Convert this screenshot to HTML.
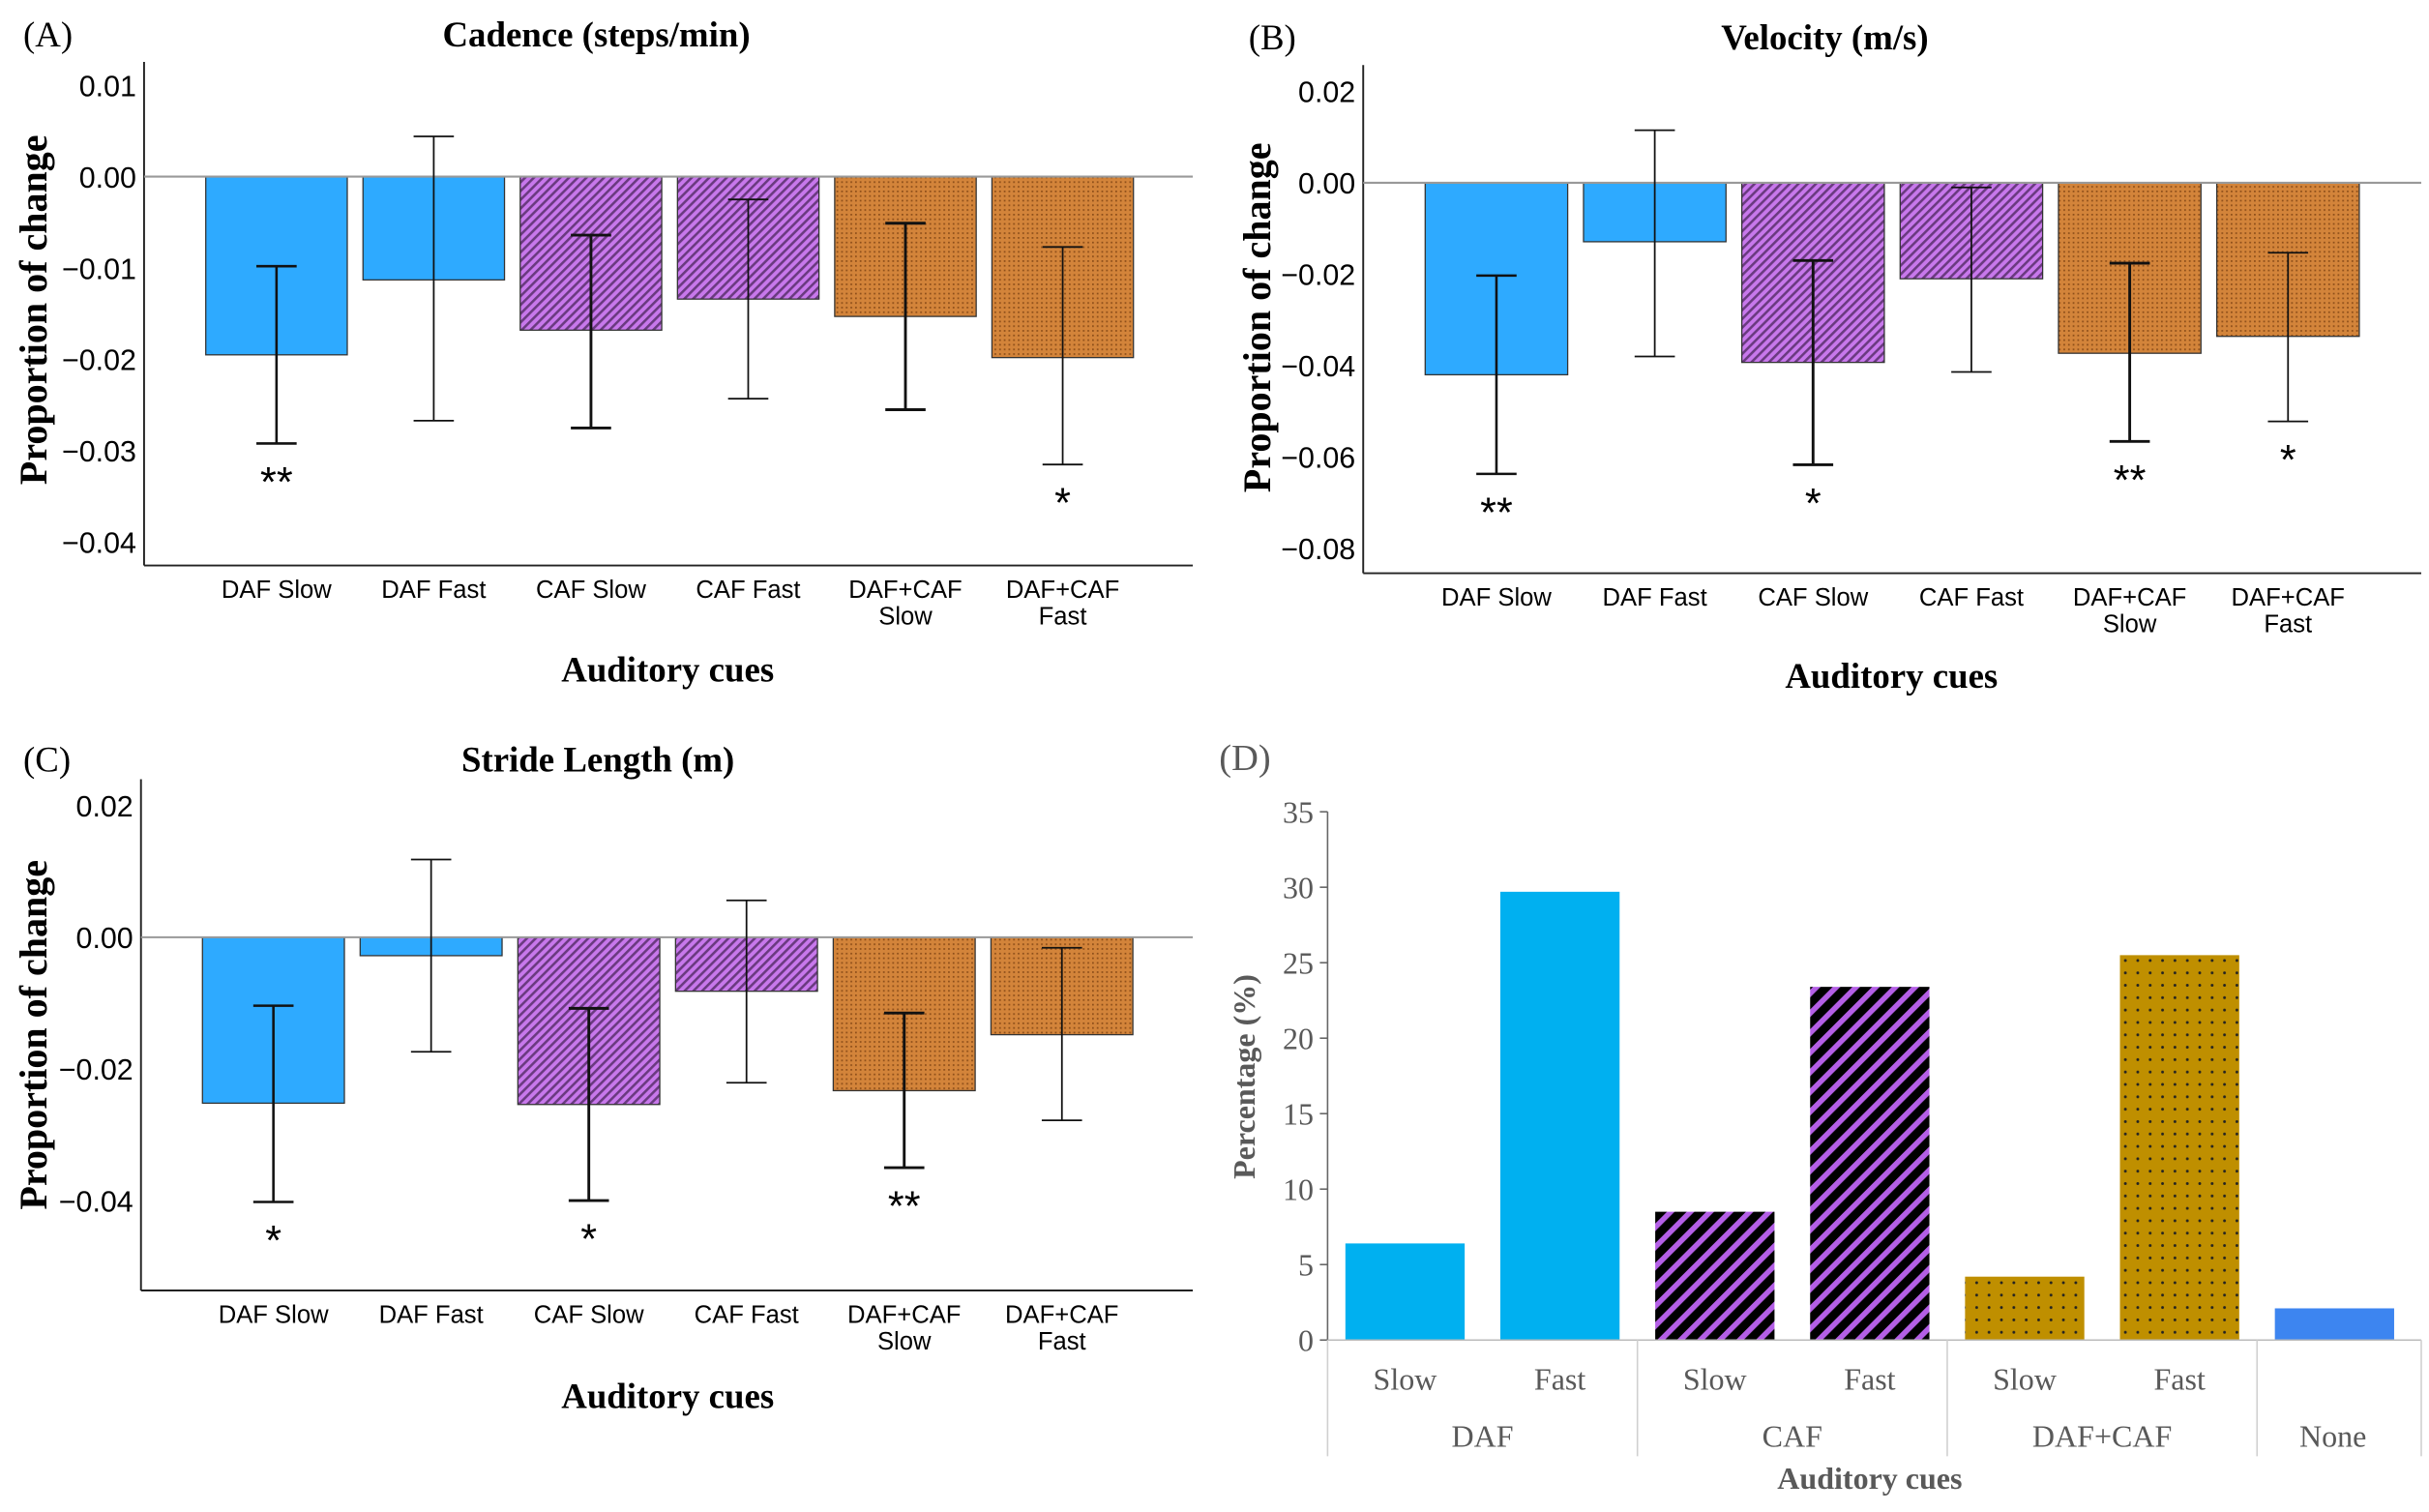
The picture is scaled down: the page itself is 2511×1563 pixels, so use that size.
<!DOCTYPE html>
<html><head><meta charset="utf-8"><style>
html,body{margin:0;padding:0;background:#fff;}
svg{display:block;}
.ser{font-family:"Liberation Serif",serif;}
.san{font-family:"Liberation Sans",sans-serif;}
</style></head><body>
<svg id="fig" width="2511" height="1563" viewBox="0 0 1568 976" preserveAspectRatio="none" xmlns="http://www.w3.org/2000/svg">
<defs>
<pattern id="hatchP" patternUnits="userSpaceOnUse" width="4" height="4" patternTransform="rotate(45)">
<rect width="4" height="4" fill="#c878ec"/><rect width="1.6" height="4" fill="#6a3a80"/></pattern>
<pattern id="dotO" patternUnits="userSpaceOnUse" width="3" height="3">
<rect width="3" height="3" fill="#d3843a"/><rect width="1.1" height="1.1" fill="#8e4f1a"/></pattern>
<pattern id="hatchD" patternUnits="userSpaceOnUse" width="9" height="9" patternTransform="rotate(45)">
<rect width="9" height="9" fill="#000"/><rect width="3.5" height="9" fill="#b45fe6"/></pattern>
<pattern id="dotD" patternUnits="userSpaceOnUse" width="8" height="8">
<rect width="8" height="8" fill="#bf8f00"/><circle cx="4" cy="4" r="0.9" fill="#222"/></pattern>
</defs>
<g id="root"></g>
</svg>
<script>
// ---- data ----
const cats = ["DAF Slow","DAF Fast","CAF Slow","CAF Fast","DAF+CAF Slow","DAF+CAF Fast"];
const cadMean = [-0.0195,-0.0113,-0.0168,-0.0134,-0.0153,-0.0198];
const cadHi   = [-0.0098, 0.0044,-0.0064,-0.0025,-0.0051,-0.0077];
const cadLo   = [-0.0292,-0.0267,-0.0275,-0.0243,-0.0255,-0.0315];
const cadSig  = ["**","","","","","*"];
const cadTicks = [0.01,0,-0.01,-0.02,-0.03,-0.04];
const velMean = [-0.0420,-0.0129,-0.0393,-0.0210,-0.0373,-0.0336];
const velHi   = [-0.0203, 0.0115,-0.0170,-0.0010,-0.0176,-0.0153];
const velLo   = [-0.0637,-0.0380,-0.0617,-0.0414,-0.0566,-0.0522];
const velSig  = ["**","","*","","**","*"];
const velTicks = [0.02,0,-0.02,-0.04,-0.06,-0.08];
const strMean = [-0.0252,-0.0028,-0.0254,-0.0082,-0.0233,-0.0148];
const strHi   = [-0.0104, 0.0118,-0.0108, 0.0056,-0.0115,-0.0016];
const strLo   = [-0.0402,-0.0174,-0.0400,-0.0221,-0.0350,-0.0278];
const strSig  = ["*","","*","","**",""];
const strTicks = [0.02,0,-0.02,-0.04];
const dCats = ["Slow","Fast","Slow","Fast","Slow","Fast",""];
const dGroups = ["DAF","CAF","DAF+CAF","None"];
const dVals = [6.4,29.7,8.5,23.4,4.2,25.5,2.1];
const dTicks = [0,5,10,15,20,25,30,35];

const NS="http://www.w3.org/2000/svg";
const root=document.getElementById('root');
function mk(tag,attrs,parent,txt){const e=document.createElementNS(NS,tag);for(const k in attrs)e.setAttribute(k,attrs[k]);if(txt!==undefined)e.textContent=txt;(parent||root).appendChild(e);return e;}
const fills=["#2eaaff","#2eaaff","url(#hatchP)","url(#hatchP)","url(#dotO)","url(#dotO)"];
const thick=[1.6,1.1,1.8,1.1,1.8,1.1];

function panel(o){
  const g=mk('g',{});
  
  
  const y=v=>o.y0+(v-o.v0)*(o.y1-o.y0)/(o.v1-o.v0);
  const x=i=>o.xc0+i*o.step;
  const t1=mk('text',{x:o.lx,y:o.ty,'font-size':23,class:'ser'},g,o.letter);
  
  const t2=mk('text',{x:o.tx,y:o.ty,'font-size':23,'font-weight':'bold','text-anchor':'middle',class:'ser'},g,o.title);
  
  const ya=mk('line',{x1:o.ax,x2:o.ax,y1:o.atop,y2:o.abot,stroke:'#222','stroke-width':1.2},g);
  
  const xa=mk('line',{x1:o.ax,x2:o.aright,y1:o.abot,y2:o.abot,stroke:'#222','stroke-width':1.2},g);
  
  o.ticks.forEach(v=>{
    const s=v===0?"0.00":(v<0?"\u2212"+Math.abs(v).toFixed(2):v.toFixed(2));
    const t=mk('text',{x:o.ax-5,y:y(v)+7,'font-size':19,'text-anchor':'end',class:'san'},g,s);
    
  });
  const yl=mk('text',{x:0,y:0,'font-size':25,'font-weight':'bold','text-anchor':'middle',class:'ser',transform:`translate(${o.ylx},${o.yly}) rotate(-90)`},g,'Proportion of change');
  
  const bw=o.step*0.9;
  o.mean.forEach((m,i)=>{
    const r=mk('rect',{x:x(i)-bw/2,y:y(0),width:bw,height:y(m)-y(0),fill:fills[i],stroke:'#333','stroke-width':0.8},g);
    
    
  });
  const z=mk('line',{x1:o.ax,x2:o.aright,y1:y(0),y2:y(0),stroke:'#999','stroke-width':1.3},g);
  
  o.mean.forEach((m,i)=>{
    const eg=mk('g',{stroke:'#111','stroke-width':thick[i]},g);
    
    mk('line',{x1:x(i),x2:x(i),y1:y(o.hi[i]),y2:y(o.lo[i])},eg);
    mk('line',{x1:x(i)-13,x2:x(i)+13,y1:y(o.hi[i]),y2:y(o.hi[i])},eg);
    mk('line',{x1:x(i)-13,x2:x(i)+13,y1:y(o.lo[i]),y2:y(o.lo[i])},eg);
    if(o.sig[i]){
      const s=mk('text',{x:x(i),y:y(o.lo[i])+34,'font-size':27,'text-anchor':'middle',class:'san'},g,o.sig[i]);
      
    }
    const parts=cats[i].split(' ');
    const lines=parts[0].indexOf('+')>0?parts:[cats[i]];
    lines.forEach((ln,k)=>{
      const t=mk('text',{x:x(i),y:o.abot+21+k*17,'font-size':16,'text-anchor':'middle',class:'san'},g,ln);
      
    });
  });
  const xt=mk('text',{x:o.xtx,y:o.xty,'font-size':23,'font-weight':'bold','text-anchor':'middle',class:'ser'},g,'Auditory cues');
  
}
panel({name:'panel-a-cadence',letter:'(A)',title:'Cadence (steps/min)',lx:15,tx:385,ty:30,ax:93,aright:770,atop:40,abot:365,
  v0:0,y0:114,v1:-0.04,y1:350,xc0:178.5,step:101.5,ticks:cadTicks,mean:cadMean,hi:cadHi,lo:cadLo,sig:cadSig,ylx:30,yly:200,xtx:431,xty:440});
panel({name:'panel-b-velocity',letter:'(B)',title:'Velocity (m/s)',lx:806,tx:1178,ty:32,ax:880,aright:1563,atop:42,abot:370,
  v0:0,y0:118,v1:-0.08,y1:354,xc0:966,step:102.2,ticks:velTicks,mean:velMean,hi:velHi,lo:velLo,sig:velSig,ylx:820,yly:205,xtx:1221,xty:444});
panel({name:'panel-c-stride-length',letter:'(C)',title:'Stride Length (m)',lx:15,tx:386,ty:498,ax:91,aright:770,atop:503,abot:833,
  v0:0,y0:605,v1:-0.04,y1:775,xc0:176.5,step:101.8,ticks:strTicks,mean:strMean,hi:strHi,lo:strLo,sig:strSig,ylx:30,yly:668,xtx:431,xty:909});

// ---- panel D ----
(function(){
  const g=mk('g',{});
  
  
  const ax=857,y0=865,y35=524;
  const y=v=>y0+(y35-y0)*v/35;
  const x=i=>907+i*100;
  const dFills=["#00b0f0","#00b0f0","url(#hatchD)","url(#hatchD)","url(#dotD)","url(#dotD)","#3d85f0"];
  const gray="#595959";
  const lab=mk('text',{x:787,y:497,'font-size':24,fill:gray,class:'ser'},g,'(D)');
  
  const ya=mk('line',{x1:ax,x2:ax,y1:y(35),y2:y0,stroke:'#666','stroke-width':1},g);
  
  dTicks.forEach(v=>{
    mk('line',{x1:ax-5,x2:ax,y1:y(v),y2:y(v),stroke:'#666','stroke-width':1},g);
    const t=mk('text',{x:ax-9,y:y(v)+7,'font-size':20,fill:gray,'text-anchor':'end',class:'ser'},g,String(v));
    
  });
  dVals.forEach((v,i)=>{
    const r=mk('rect',{x:x(i)-38.5,y:y(v),width:77,height:y0-y(v),fill:dFills[i]},g);
    
    
    if(dCats[i]){
      const t=mk('text',{x:x(i),y:897,'font-size':20,fill:gray,'text-anchor':'middle',class:'ser'},g,dCats[i]);
      
    }
  });
  const xa=mk('line',{x1:ax,x2:1563,y1:y0,y2:y0,stroke:'#bbb','stroke-width':1},g);
  
  [857,1057,1257,1457,1563].forEach(sx=>mk('line',{x1:sx,x2:sx,y1:y0,y2:940,stroke:'#d0d0d0','stroke-width':1},g));
  dGroups.forEach((n,k)=>{
    const cx=k<3?957+k*200:1506;
    const t=mk('text',{x:cx,y:934,'font-size':20,fill:gray,'text-anchor':'middle',class:'ser'},g,n);
    
  });
  const xt=mk('text',{x:1207,y:961,'font-size':20,'font-weight':'bold',fill:gray,'text-anchor':'middle',class:'ser'},g,'Auditory cues');
  
  const yl=mk('text',{x:0,y:0,'font-size':20,'font-weight':'bold',fill:gray,'text-anchor':'middle',class:'ser',transform:'translate(810,695) rotate(-90)'},g,'Percentage (%)');
  
})();
</script>
</body></html>
